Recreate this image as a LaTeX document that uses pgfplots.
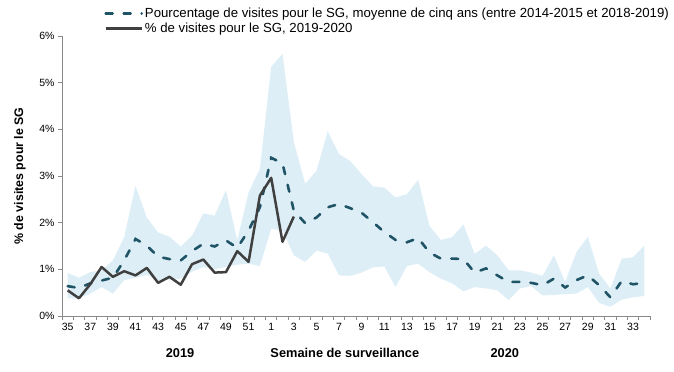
\documentclass[border=0pt]{standalone}
\usepackage{pgfplots}
\pgfplotsset{compat=1.18}
\usepackage{pgfplotstable}
\usepgfplotslibrary{fillbetween}
\usepackage{fontspec}
\setmainfont{Liberation Sans}
\definecolor{bandc}{HTML}{DDEEF6}
\definecolor{avgc}{HTML}{1F5466}
\definecolor{curc}{HTML}{404040}
\definecolor{axc}{HTML}{898989}

\pgfplotstableread{
i lo hi avg
0 0.38 0.92 0.64
1 0.38 0.82 0.60
2 0.48 0.94 0.70
3 0.62 0.98 0.76
4 0.48 1.19 0.82
5 0.77 1.69 1.19
6 0.82 2.79 1.65
7 0.88 2.11 1.51
8 0.75 1.79 1.27
9 0.78 1.70 1.22
10 0.80 1.49 1.19
11 0.95 1.72 1.39
12 1.05 2.20 1.55
13 1.00 2.15 1.49
14 1.05 2.70 1.62
15 1.10 1.62 1.46
16 1.12 2.65 1.83
17 1.07 3.15 2.33
18 1.87 5.34 3.39
19 1.83 5.62 3.27
20 1.30 3.74 2.26
21 1.16 2.83 1.99
22 1.40 3.11 2.11
23 1.34 3.96 2.33
24 0.87 3.47 2.40
25 0.86 3.32 2.31
26 0.93 3.04 2.21
27 1.04 2.78 2.01
28 1.06 2.75 1.80
29 0.62 2.54 1.63
30 1.07 2.61 1.58
31 1.12 2.92 1.67
32 0.94 1.93 1.36
33 0.80 1.63 1.23
34 0.70 1.69 1.23
35 0.53 1.96 1.22
36 0.62 1.33 0.93
37 0.59 1.51 1.02
38 0.55 1.30 0.87
39 0.34 0.98 0.73
40 0.59 0.98 0.73
41 0.64 0.93 0.71
42 0.44 0.86 0.66
43 0.45 1.30 0.80
44 0.47 0.73 0.61
45 0.48 1.37 0.77
46 0.62 1.70 0.87
47 0.28 0.91 0.66
48 0.20 0.59 0.40
49 0.35 1.23 0.75
50 0.40 1.26 0.68
51 0.43 1.51 0.71
}\band

\pgfplotstableread{
i cur
0 0.55
1 0.38
2 0.68
3 1.05
4 0.84
5 0.96
6 0.87
7 1.03
8 0.71
9 0.84
10 0.67
11 1.11
12 1.21
13 0.93
14 0.94
15 1.39
16 1.16
17 2.58
18 2.96
19 1.59
20 2.13
}\cur

\begin{document}
\begin{tikzpicture}
\begin{axis}[
  at={(62bp,56bp)}, anchor=south west,
  scale only axis, width=588bp, height=280bp,
  xmin=-0.5, xmax=51.5, ymin=0, ymax=6,
  axis lines*=left,
  axis line style={draw=axc, line width=0.8bp},
  tick align=outside,
  major tick length=4bp, minor tick length=4bp,
  tick style={draw=axc, line width=0.8bp},
  xtick={-0.5,0.5,...,51.5},
  xticklabels={},
  extra x ticks={0,2,...,50},
  extra x tick labels={35,37,39,41,43,45,47,49,51,1,3,5,7,9,11,13,15,17,19,21,23,25,27,29,31,33},
  extra x tick style={major tick length=0pt, grid=none},
  ytick={0,1,2,3,4,5,6},
  yticklabels={0\%,1\%,2\%,3\%,4\%,5\%,6\%},
  tick label style={font=\fontsize{10.5bp}{12bp}\selectfont},
  x tick label style={yshift=-4bp},
  /pgf/number format/assume math mode=true,
  every axis y label/.style={at={(axis description cs:-0.0714,0.5)}, rotate=90, anchor=center},
  ylabel={\% de visites pour le SG},
  ylabel style={font=\bfseries\fontsize{12.4bp}{14bp}\selectfont},
  clip=false,
  legend style={at={(axis description cs:0.07,1.112)}, anchor=north west, draw=none, fill=none,
    font=\fontsize{13.2bp}{15bp}\selectfont, row sep=0bp, inner sep=1bp},
  legend cell align=left,
  legend image code/.code={\draw[#1] (0bp,0bp) -- (36bp,0bp);},
]
\addplot[name path=U, draw=none, forget plot] table[x=i, y=hi] {\band};
\addplot[name path=L, draw=none, forget plot] table[x=i, y=lo] {\band};
\addplot[fill=bandc, draw=none, forget plot] fill between[of=U and L];
\addplot[avgc, line width=2.6bp, line cap=round, dash pattern=on 7bp off 11bp] table[x=i, y=avg] {\band};
\addlegendentry{Pourcentage de visites pour le SG, moyenne de cinq ans (entre 2014-2015 et 2018-2019)}
\addplot[curc, line width=2.5bp, line join=round] table[x=i, y=cur] {\cur};
\addlegendentry{\% de visites pour le SG, 2019-2020}
\node[font=\bfseries\fontsize{12.8bp}{14bp}\selectfont] at (axis description cs:0.2007,-0.132) {2019};
\node[font=\bfseries\fontsize{12.8bp}{14bp}\selectfont] at (axis description cs:0.481,-0.132) {Semaine de surveillance};
\node[font=\bfseries\fontsize{12.8bp}{14bp}\selectfont] at (axis description cs:0.753,-0.132) {2020};
\end{axis}
\pgfresetboundingbox
\path (0,0) rectangle (674bp,372bp);
\end{tikzpicture}
\end{document}
